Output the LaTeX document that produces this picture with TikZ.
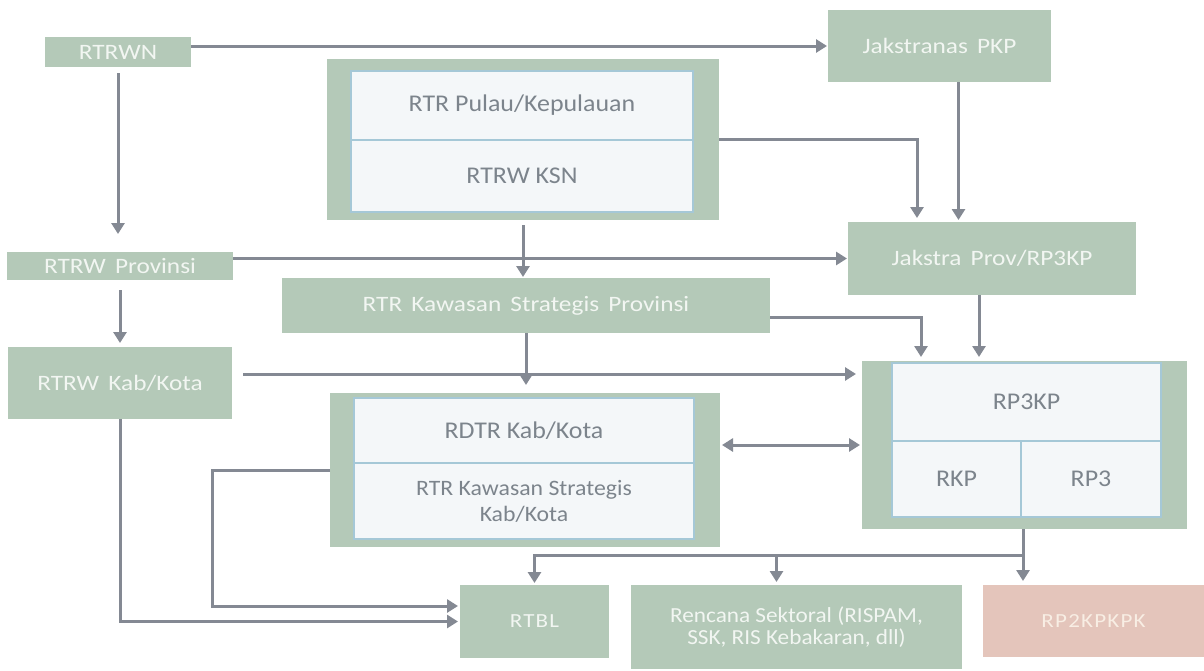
\documentclass[tikz,border=0pt]{standalone}
\usepackage{fontspec}
\setmainfont{Carlito}
\newfontfamily\gfont[FakeStretch=1.15,WordSpace=1.6]{Carlito}
\newfontfamily\ifont[FakeStretch=1.08]{Carlito}
\newfontfamily\pfont[FakeStretch=1.15,LetterSpace=6]{Carlito}
\usetikzlibrary{arrows.meta}
\definecolor{gboxc}{RGB}{180,201,184}
\definecolor{gtext}{RGB}{242,246,242}
\definecolor{ifill}{RGB}{244,247,249}
\definecolor{iline}{RGB}{165,200,215}
\definecolor{itext}{RGB}{124,132,140}
\definecolor{arrc}{RGB}{132,137,147}
\definecolor{rptwoc}{RGB}{228,197,187}
\definecolor{rptwot}{RGB}{248,238,228}
\begin{document}
\begin{tikzpicture}[x=1pt,y=-1pt,
  gbox/.style={fill=gboxc, draw=none, inner sep=0pt, outer sep=0pt, anchor=north west,
    text=gtext, font=\gfont\fontsize{22}{26}\selectfont, align=center},
  ibox/.style={fill=ifill, draw=iline, line width=1.5pt, inner sep=0pt, outer sep=0pt,
    anchor=north west, text=itext, font=\ifont\fontsize{24}{26}\selectfont, align=center},
  arr/.style={draw=arrc, line width=3pt, -{Triangle[width=13pt,length=11pt]}},
  darr/.style={draw=arrc, line width=3pt, {Triangle[width=13pt,length=11pt]}-{Triangle[width=13pt,length=11pt]}}
]
\useasboundingbox (0,0) rectangle (1204,670);
\fill[white] (0,0) rectangle (1204,670);

% nodes
\node[gbox, minimum width=146, minimum height=30] (rtrwn) at (45,37) {RTRWN};
\node[gbox, minimum width=223, minimum height=72] (jaks) at (828,10) {Jakstranas PKP};
\node[gbox, minimum width=392, minimum height=161] (big) at (327,59) {};
\node[ibox, minimum width=342, minimum height=69] (pulau) at (351,71) {RTR Pulau/Kepulauan};
\node[ibox, minimum width=342, minimum height=72] (ksn) at (351,140) {RTRW KSN};
\node[gbox, minimum width=226, minimum height=28] (prov) at (7,252) {RTRW Provinsi};
\node[gbox, minimum width=288, minimum height=73] (jprov) at (848,222) {Jakstra Prov/RP3KP};
\node[gbox, minimum width=488, minimum height=55] (ksprov) at (282,278) {RTR Kawasan Strategis Provinsi};
\node[gbox, minimum width=224, minimum height=72] (kab) at (8,347) {RTRW Kab/Kota};
\node[gbox, minimum width=390, minimum height=154] (rdtr) at (330,393) {};
\node[ibox, minimum width=340, minimum height=65] (rdtri) at (354,398) {RDTR Kab/Kota};
\node[ibox, minimum width=340, minimum height=76, font=\ifont\fontsize{22}{26}\selectfont] (kss) at (354,463) {RTR Kawasan Strategis\\Kab/Kota};
\node[gbox, minimum width=325, minimum height=168] (rpk) at (862,361) {};
\node[ibox, minimum width=269, minimum height=78] (rpki) at (892,363) {RP3KP};
\node[ibox, minimum width=129, minimum height=76] (rkp) at (892,441) {RKP};
\node[ibox, minimum width=140, minimum height=76] (rpthree) at (1021,441) {RP3};
\node[gbox, minimum width=149, minimum height=73, font=\pfont\fontsize{20}{24}\selectfont] (rtbl) at (460,585) {RTBL};
\node[gbox, minimum width=331, minimum height=84, font=\ifont\fontsize{21.5}{22}\selectfont] (renc) at (631,585) {Rencana Sektoral (RISPAM,\\SSK, RIS Kebakaran, dll)};
\node[gbox, fill=rptwoc, text=rptwot, minimum width=221, minimum height=72, font=\pfont\fontsize{20}{22}\selectfont] (rptwo) at (983,585) {RP2KPKPK};

% helper coordinates
\coordinate (k1) at ([yshift=9pt]kab.east);
\coordinate (c1) at (212,606);
\coordinate (split) at (1023,555);
\coordinate (rn) at ([xshift=-20pt]renc.north);
\coordinate (jx) at ([xshift=69pt]jprov.north west);
\coordinate (rx) at ([xshift=59pt]rpk.north west);
\coordinate (s1) at ([yshift=-12pt]ksprov.east);
\coordinate (j1) at ([xshift=19pt]jaks.south);
\coordinate (j2) at ([xshift=-13pt]jprov.south);

% connectors
\draw[arr, shorten >=1pt] (rtrwn.east |- jaks.west) -- (jaks.west);
\draw[arr, shorten <=6pt, shorten >=18pt] (rtrwn.south) -- (rtrwn.south |- prov.north);
\draw[arr, shorten <=10pt, shorten >=4pt] (prov.south) -- (prov.south |- kab.north);
\draw[arr, shorten >=4pt] (big.east) -| (jx);
\draw[arr, shorten >=2pt] (j1) -- (j1 |- jprov.north);
\draw[arr, shorten <=5pt, shorten >=1pt] (big.south) -- (big.south |- ksprov.north);
\draw[arr, shorten >=1pt] (prov.east |- jprov.west) -- (jprov.west);
\draw[arr, shorten >=4pt] (s1) -| (rx);
\draw[arr, shorten >=4pt] (j2) -- (j2 |- rpk.north);
\draw[arr, shorten >=8pt] (ksprov.south) -- (ksprov.south |- rdtr.north);
\draw[arr, shorten <=11pt, shorten >=6pt] (k1) -- (k1 -| rpk.west);
\draw[darr, shorten <=2pt, shorten >=2pt] (rdtr.east |- rpk.west) -- (rpk.west);
\draw[arr, shorten >=2pt] (rdtr.west) -| (c1) -- (c1 -| rtbl.west);
\draw[arr, shorten >=2pt] (kab.south) |- (rtbl.west);
\draw[arr, shorten >=2pt] (rpk.south -| split) -- (split) -| (rtbl.north);
\draw[arr, shorten >=3pt] (rn |- split) -- (rn);
\draw[arr, shorten >=4pt] (rpk.south -| split) -- (rptwo.north -| split);
\end{tikzpicture}
\end{document}
